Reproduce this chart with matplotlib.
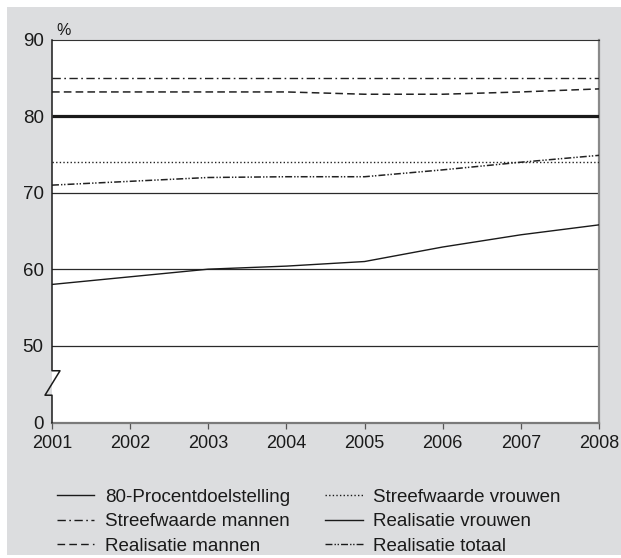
import matplotlib
matplotlib.use("Agg")
import matplotlib.pyplot as plt
from matplotlib.patches import Rectangle
from matplotlib.lines import Line2D
import matplotlib.transforms as mtransforms

plt.rcParams['font.family'] = ['Liberation Sans', 'DejaVu Sans']
plt.rcParams['lines.scale_dashes'] = False

years = [2001, 2002, 2003, 2004, 2005, 2006, 2007, 2008]
doel_80 = [80, 80, 80, 80, 80, 80, 80, 80]
streef_mannen = [85, 85, 85, 85, 85, 85, 85, 85]
real_mannen = [83.2, 83.2, 83.2, 83.2, 82.9, 82.9, 83.2, 83.6]
streef_vrouwen = [74, 74, 74, 74, 74, 74, 74, 74]
real_vrouwen = [58.0, 59.0, 60.0, 60.4, 61.0, 62.9, 64.5, 65.8]
real_totaal = [71.0, 71.5, 72.0, 72.1, 72.1, 73.0, 74.0, 74.9]

ytick_pos = [39.9, 50, 60, 70, 80, 90]
ytick_labels = ['0', '50', '60', '70', '80', '90']
grid_levels = [50, 60, 70]

W, H = 621, 558
fig = plt.figure(figsize=(W / 100, H / 100), dpi=100, facecolor='white')
fig.patches.append(Rectangle((7 / W, 3 / H), 1 - 7 / W, 1 - 10 / H,
                             transform=fig.transFigure, facecolor='#dcdddf',
                             edgecolor='none', zorder=-10))

ax_w = 547
ax = fig.add_axes([52 / W, 1 - 422.7 / H, ax_w / W, (422.7 - 40) / H])
ax.set_facecolor('white')
ax.set_xlim(2001, 2008)
ax.set_ylim(39.9, 90)

for g in grid_levels:
    ax.axhline(g, color='#2a2a2a', lw=0.9, zorder=1)

sty_sm = (0, (6, 2.5, 1.2, 2.5))
sty_rm = (0, (5.5, 3))
sty_sv = (0, (1, 1.6))
sty_rt = (0, (5, 1.5, 1, 1.2, 1, 1.5))

ax.plot(years, doel_80, color='#1a1a1a', lw=2.3, solid_capstyle='butt', zorder=3)
ax.plot(years, streef_mannen, color='#222222', lw=1.0, linestyle=sty_sm, zorder=3)
ax.plot(years, real_mannen, color='#222222', lw=1.1, linestyle=sty_rm, zorder=3)
ax.plot(years, streef_vrouwen, color='#222222', lw=1.0, linestyle=sty_sv, zorder=3)
ax.plot(years, real_vrouwen, color='#1a1a1a', lw=1.0, zorder=3)
ax.plot(years, real_totaal, color='#222222', lw=1.1, linestyle=sty_rt, zorder=3)

ax.spines['left'].set_visible(False)
ax.spines['top'].set_color('#333333')
ax.spines['top'].set_linewidth(0.8)
ax.spines['right'].set_color('#8a8a8a')
ax.spines['right'].set_linewidth(1.6)
ax.spines['bottom'].set_color('#7a7a7a')
ax.spines['bottom'].set_linewidth(1.6)

ax.set_xticks(years)
ax.set_xticklabels([str(y) for y in years], fontsize=13, color='#1a1a1a')
ax.tick_params(axis='x', direction='out', length=4.5, width=0.9, color='#555555', pad=4.5)
ax.set_yticks(ytick_pos)
ax.set_yticklabels(ytick_labels, fontsize=13.5, color='#1a1a1a')
ax.tick_params(axis='y', length=0, pad=6)

# left axis with break symbol
trans = mtransforms.blended_transform_factory(ax.transAxes, ax.transData)
dx = 8 / ax_w
xs = [0, 0, dx, -7 / ax_w, 0, 0]
ys = [90, 46.7, 46.7, 43.5, 43.5, 39.9]
ax.add_line(Line2D(xs, ys, transform=trans, color='#1a1a1a', lw=1.1, clip_on=False, zorder=5))

ax.text(0.008, 1.005, '%', transform=ax.transAxes, ha='left', va='bottom', fontsize=11.5, color='#1a1a1a')

labels = ['80-Procentdoelstelling', 'Streefwaarde mannen', 'Realisatie mannen',
          'Streefwaarde vrouwen', 'Realisatie vrouwen', 'Realisatie totaal']
styles = ['-', sty_sm, sty_rm, sty_sv, '-', sty_rt]
handles = [Line2D([], [], color='#1a1a1a', lw=1.0, linestyle=s) for s in styles]
leg = fig.legend(handles, labels, ncol=2, loc='upper left',
                 bbox_to_anchor=(40 / W, 1 - 472 / H), frameon=False,
                 fontsize=13.5, handlelength=2.0, handletextpad=0.55,
                 columnspacing=1.9, labelspacing=0.39)
for t in leg.get_texts():
    t.set_color('#1a1a1a')

fig.savefig('out.png', dpi=100, facecolor=fig.get_facecolor())
